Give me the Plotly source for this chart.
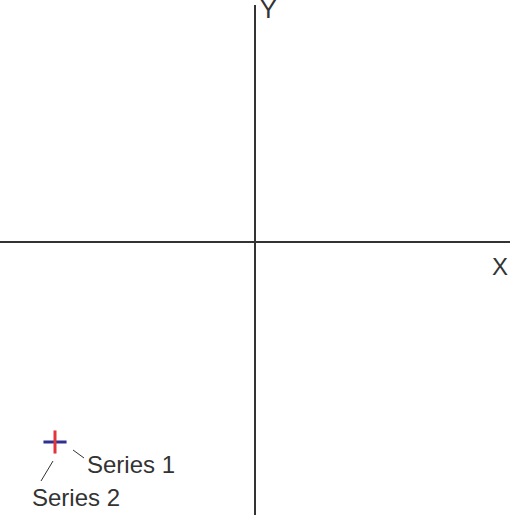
import plotly.graph_objects as go

# Data
series_names = ["Series 1", "Series 2"]
series_x = [-4.0, -4.0]
series_y = [-4.0, -4.0]
series_colors = ["#2e3192", "#e3343c"]
series_symbols = ["line-ew", "line-ns"]
axis_titles = ["X", "Y"]

x_range = [-5.1, 5.1]
y_range = [-5.46, 4.74]

fig = go.Figure()
for i in [0, 1]:
    fig.add_trace(go.Scatter(
        x=[series_x[i]], y=[series_y[i]], mode="markers", name=series_names[i],
        marker=dict(symbol=series_symbols[i], size=16.5,
                    line=dict(color=series_colors[i], width=3)),
        showlegend=False, hoverinfo="skip"))

axcolor = "#333333"
fig.update_xaxes(range=x_range, showgrid=False, showticklabels=False, ticks="",
                 zeroline=True, zerolinecolor=axcolor, zerolinewidth=2, showline=False)
fig.update_yaxes(range=y_range, showgrid=False, showticklabels=False, ticks="",
                 zeroline=True, zerolinecolor=axcolor, zerolinewidth=2, showline=False)

font = dict(family="Liberation Sans, Arial, sans-serif", size=24, color="#333333")

# leader lines (pixel offsets relative to each series point)
leaders = [(18, 29, -8, -16), (-2, -14, -19, -39)]
labels_off = [(30, -22), (-25, -55)]
for i, (x0, x1, y0, y1) in enumerate(leaders):
    fig.add_shape(type="line", xref="x", yref="y",
                  xsizemode="pixel", ysizemode="pixel",
                  xanchor=series_x[i], yanchor=series_y[i],
                  x0=x0, x1=x1, y0=y0, y1=y1,
                  line=dict(color="#333333", width=1))
    fig.add_annotation(x=series_x[i], y=series_y[i], xref="x", yref="y",
                       text=series_names[i], showarrow=False,
                       xanchor="left", yanchor="middle",
                       xshift=labels_off[i][0], yshift=labels_off[i][1], font=font)

fig.add_annotation(x=0, y=1, xref="x", yref="paper", text=axis_titles[1], showarrow=False,
                   xanchor="left", yanchor="middle", xshift=3, yshift=-4,
                   font=dict(font, size=25))
fig.add_annotation(x=1, y=0, xref="paper", yref="y", text=axis_titles[0], showarrow=False,
                   xanchor="right", yanchor="middle", xshift=0, yshift=-24, font=font)

fig.update_layout(width=510, height=515, margin=dict(l=0, r=0, t=5, b=0),
                  paper_bgcolor="white", plot_bgcolor="white", showlegend=False)

fig.write_html("out.html", config={"displayModeBar": False},
               post_script="document.body.style.margin='0';document.body.style.overflow='hidden';")
